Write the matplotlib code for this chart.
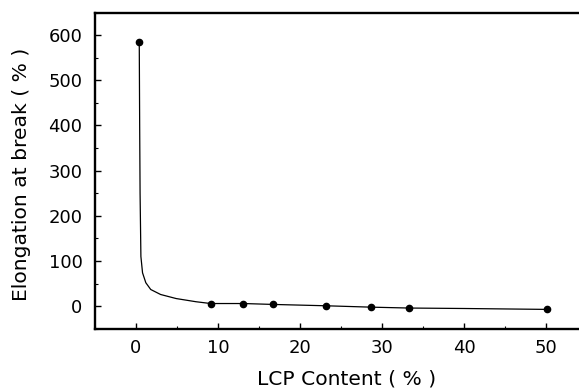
import numpy as np
import matplotlib.pyplot as plt
from matplotlib.ticker import MultipleLocator

# measured points
lcp = [0.4, 9.1, 13.1, 16.7, 23.2, 28.6, 33.3, 50.1]
elong = [585, 5, 6, 4, 1, -2, -4, -7]

# fitted curve
curve_x = [0.4, 0.45, 0.5, 0.6, 0.8, 1.2, 1.8, 3.0, 4.9, 7.3, 9.1, 13.1, 16.7, 23.2, 28.6, 33.3, 40, 45, 50.1]
curve_y = [585, 400, 250, 110, 74, 52, 37, 26, 17, 10, 6, 6, 4, 1, -2, -4, -5, -6, -7]

plt.rcParams['font.family'] = ['DejaVu Sans']

fig = plt.figure(figsize=(5.79, 3.91), dpi=100)
ax = fig.add_axes([0.164, 0.159, 0.836, 0.809])

ax.plot(curve_x, curve_y, color='black', lw=0.9)
ax.plot(lcp, elong, 'o', color='black', ms=4.5)

ax.set_xlim(-5, 54)
ax.set_ylim(-50, 650)
ax.set_xticks([0, 10, 20, 30, 40, 50])
ax.set_yticks([0, 100, 200, 300, 400, 500, 600])
ax.xaxis.set_minor_locator(MultipleLocator(5))
ax.yaxis.set_minor_locator(MultipleLocator(50))
ax.tick_params(which='major', direction='in', length=4, width=1, labelsize=13)
ax.tick_params(axis='y', which='major', pad=9)
ax.tick_params(axis='x', which='major', pad=7)
ax.tick_params(which='minor', direction='in', length=2.5, width=0.8)
ax.tick_params(top=False, right=False)

for s in ['left', 'bottom', 'top']:
    ax.spines[s].set_linewidth(1.7)
ax.spines['right'].set_visible(False)

ax.set_xlabel('LCP Content ( % )', fontsize=14.6)
ax.set_ylabel('Elongation at break ( % )', fontsize=14.6)
ax.xaxis.set_label_coords(0.52, -0.177)
ax.xaxis.label.set_va('baseline')
ax.yaxis.set_label_coords(-0.151, 0.487)
ax.yaxis.label.set_va('center')

fig.savefig('out.png', dpi=100)
